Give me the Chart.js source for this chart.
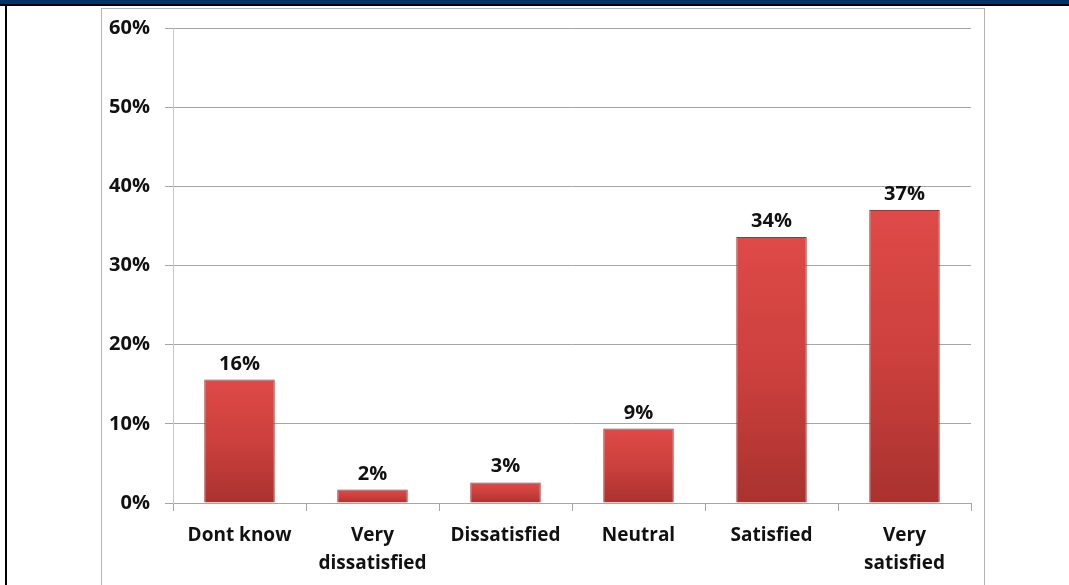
<!DOCTYPE html>
<html>
<head>
<meta charset="utf-8">
<script src="https://cdn.jsdelivr.net/npm/chart.js@4.4.1/dist/chart.umd.min.js"></script>
<style>
  html, body { margin: 0; padding: 0; background: #fff; }
  body { width: 1069px; height: 585px; position: relative; overflow: hidden; }
  #banner { position: absolute; left: 0; top: 0; width: 1069px; height: 4px; background: #003366; }
  #bannerLine { position: absolute; left: 0; top: 4px; width: 1069px; height: 2px; background: #000; }
  #leftLine { position: absolute; left: 5px; top: 4px; width: 2px; height: 581px; background: #000; }
  #frame { position: absolute; left: 101px; top: 8px; width: 884px; height: 600px; border: 1px solid #b4b4b4; border-bottom: none; box-sizing: border-box; }
  #satChart { position: absolute; left: 0; top: 0; }
</style>
</head>
<body>
<div id="banner"></div>
<div id="bannerLine"></div>
<div id="leftLine"></div>
<div id="frame"></div>
<canvas id="satChart" width="1069" height="585"></canvas>
<script>
// Survey answers (percent of respondents)
const categories = ['Dont know', ['Very', 'dissatisfied'], 'Dissatisfied', 'Neutral', 'Satisfied', ['Very', 'satisfied']];
const shares = [15.6, 1.7, 2.6, 9.4, 33.6, 37.0];
const yTickLabels = ['0%', '10%', '20%', '30%', '40%', '50%', '60%'];

const fontFamily = '"Open Sans", "Noto Sans", sans-serif';

// red bars shaded from light top to dark bottom
function barFill(context) {
    const chart = context.chart;
    if (!chart.chartArea || context.raw === undefined) return '#c63d3a';
    const y = chart.scales.y;
    const top = y.getPixelForValue(context.raw);
    const bottom = y.getPixelForValue(0);
    const g = chart.ctx.createLinearGradient(0, top, 0, bottom);
    g.addColorStop(0, '#de4a47');
    g.addColorStop(0.5, '#cc403d');
    g.addColorStop(1, '#a9322f');
    return g;
}

// value labels above each bar
const valueLabels = {
    id: 'valueLabels',
    afterDatasetsDraw(chart) {
        const ctx = chart.ctx;
        const meta = chart.getDatasetMeta(0);
        ctx.save();
        ctx.font = 'bold 20px ' + fontFamily;
        ctx.fillStyle = '#111';
        ctx.textAlign = 'center';
        ctx.textBaseline = 'alphabetic';
        meta.data.forEach((bar, i) => {
            const v = chart.data.datasets[0].data[i];
            ctx.fillText(Math.round(v) + '%', bar.x, bar.y - 10);
        });
        ctx.restore();
    }
};

new Chart(document.getElementById('satChart').getContext('2d'), {
    type: 'bar',
    data: {
        labels: categories,
        datasets: [{
            data: shares,
            backgroundColor: barFill,
            borderColor: '#a33230',
            borderWidth: 1,
            borderSkipped: 'bottom',
            categoryPercentage: 1,
            barPercentage: 0.53
        }]
    },
    options: {
        responsive: false,
        animation: false,
        devicePixelRatio: 1,
        layout: { padding: { left: 101, right: 98, top: 28, bottom: 0 } },
        plugins: {
            legend: { display: false },
            tooltip: { enabled: false }
        },
        scales: {
            x: {
                offset: true,
                grid: {
                    offset: true,
                    drawOnChartArea: false,
                    drawTicks: true,
                    tickLength: 8,
                    color: '#a6a6a6'
                },
                border: { color: '#a6a6a6' },
                ticks: {
                    color: '#111',
                    padding: 11,
                    maxRotation: 0,
                    autoSkip: false,
                    font: { family: fontFamily, size: 19, weight: 'bold', lineHeight: 1.45 }
                },
                afterFit(scale) { scale.height = 82; }
            },
            y: {
                min: 0,
                max: 60,
                ticks: {
                    stepSize: 10,
                    color: '#111',
                    padding: 15,
                    font: { family: fontFamily, size: 20, weight: 'bold' },
                    callback: (v, i) => yTickLabels[i]
                },
                grid: { color: '#a6a6a6', tickLength: 8 },
                border: { color: '#c8c8c8' },
                afterFit(scale) { scale.width = 72; }
            }
        }
    },
    plugins: [valueLabels]
});
</script>
</body>
</html>
